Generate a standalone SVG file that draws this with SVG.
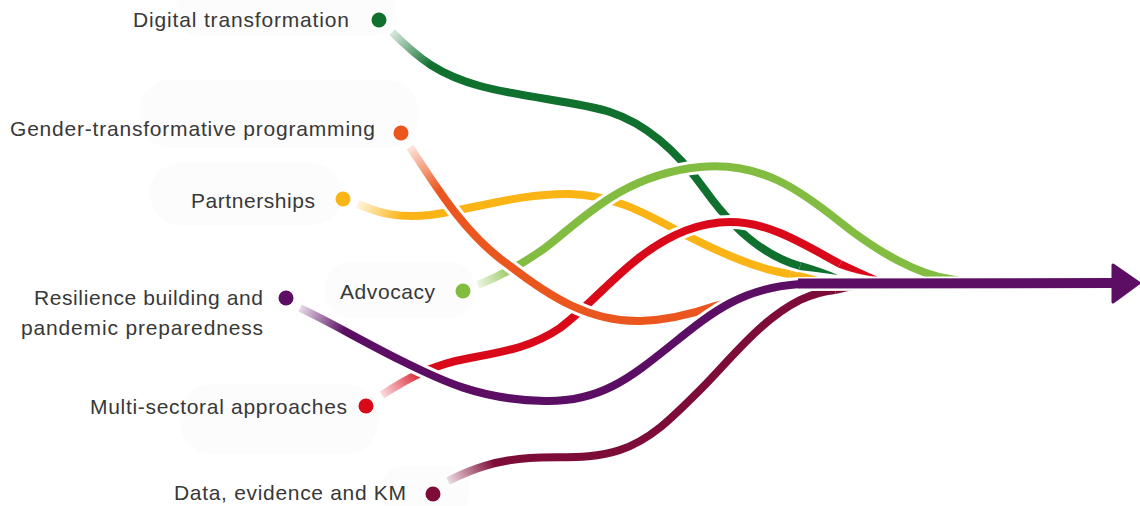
<svg xmlns="http://www.w3.org/2000/svg" width="1140" height="506" viewBox="0 0 1140 506">
  <style>
    .lbl { font-family: "Liberation Sans", Arial, sans-serif; font-size: 21px; fill: #383838; text-anchor: end; }
    .halo { fill: #fcfcfc; }
    .gap { fill: none; stroke: #ffffff; stroke-width: 14; stroke-linecap: butt; }
    .strand { fill: none; stroke-width: 8; stroke-linecap: butt; }
    .c-digital { fill: #10712f; }
    .c-gender { fill: #ea561e; }
    .c-partner { fill: #fbb415; }
    .c-advocacy { fill: #82bc41; }
    .c-resil { fill: #5b0e63; }
    .c-multi { fill: #d9091a; }
    .c-data { fill: #7e0c38; }
  </style>
  <defs>
    <!-- fade-in at the start of each strand -->
    <linearGradient id="g-digital" gradientUnits="userSpaceOnUse" x1="392" y1="32" x2="428" y2="68">
      <stop offset="0" stop-color="#10712f" stop-opacity="0.15"/>
      <stop offset="1" stop-color="#10712f"/>
    </linearGradient>
    <linearGradient id="g-gender" gradientUnits="userSpaceOnUse" x1="410" y1="147" x2="438" y2="191">
      <stop offset="0" stop-color="#ea561e" stop-opacity="0.15"/>
      <stop offset="1" stop-color="#ea561e"/>
    </linearGradient>
    <linearGradient id="g-partner" gradientUnits="userSpaceOnUse" x1="358" y1="204" x2="400" y2="222">
      <stop offset="0" stop-color="#fbb415" stop-opacity="0.15"/>
      <stop offset="1" stop-color="#fbb415"/>
    </linearGradient>
    <linearGradient id="g-advocacy" gradientUnits="userSpaceOnUse" x1="478" y1="285" x2="520" y2="268">
      <stop offset="0" stop-color="#82bc41" stop-opacity="0.15"/>
      <stop offset="1" stop-color="#82bc41"/>
    </linearGradient>
    <linearGradient id="g-resil" gradientUnits="userSpaceOnUse" x1="300" y1="308" x2="345" y2="329">
      <stop offset="0" stop-color="#5b0e63" stop-opacity="0.15"/>
      <stop offset="1" stop-color="#5b0e63"/>
    </linearGradient>
    <linearGradient id="g-multi" gradientUnits="userSpaceOnUse" x1="382" y1="395" x2="424" y2="368">
      <stop offset="0" stop-color="#d9091a" stop-opacity="0.15"/>
      <stop offset="1" stop-color="#d9091a"/>
    </linearGradient>
    <linearGradient id="g-data" gradientUnits="userSpaceOnUse" x1="448" y1="481" x2="492" y2="459">
      <stop offset="0" stop-color="#7e0c38" stop-opacity="0.15"/>
      <stop offset="1" stop-color="#7e0c38"/>
    </linearGradient>
  </defs>

  <rect width="1140" height="506" fill="#ffffff"/>

  <!-- soft label backdrops -->
  <g id="backdrops">
    <rect class="halo" x="175" y="-10" width="220" height="46" rx="22"/>
    <rect class="halo" x="140" y="80" width="278" height="68" rx="30"/>
    <rect class="halo" x="150" y="163" width="192" height="62" rx="30"/>
    <rect class="halo" x="325" y="262" width="150" height="56" rx="26"/>
    <rect class="halo" x="180" y="384" width="198" height="70" rx="32"/>
    <rect class="halo" x="380" y="466" width="90" height="50" rx="24"/>
  </g>

  <!-- strands, bottom to top -->
  <g id="connectors">
    <g id="edge-partnerships">
      <path class="gap" d="M358,204 C380,214 400,218 430,215 C470,210 520,193 570,194 C610,195 640,210 680,232 C720,253 760,270 790,274"/>
      <path class="strand" stroke="url(#g-partner)" d="M358,204 C380,214 400,218 430,215 C470,210 520,193 570,194 C610,195 640,210 680,232 C720,253 760,270 790,274"/>
      <path class="c-partner" d="M790.5,270 Q808,274 822,278 Q806,278 789.5,278 Z"/>
    </g>
    <g id="edge-digital">
      <path class="gap" d="M392,32 C420,60 440,75 480,86 C520,97 580,102 610,112 C650,125 680,155 705,190 C730,225 760,255 800,266"/>
      <path class="strand" stroke="url(#g-digital)" d="M392,32 C420,60 440,75 480,86 C520,97 580,102 610,112 C650,125 680,155 705,190 C730,225 760,255 800,266"/>
      <path class="c-digital" d="M801,262 Q822,268 838,275 Q818,272 799,270 Z"/>
    </g>
    <g id="edge-advocacy">
      <path class="gap" d="M478,285 C500,276 520,266 545,248 C580,222 620,175 700,167 C760,161 800,190 840,222 C880,254 920,275 950,279"/>
      <path class="strand" stroke="url(#g-advocacy)" d="M478,285 C500,276 520,266 545,248 C580,222 620,175 700,167 C760,161 800,190 840,222 C880,254 920,275 950,279"/>
      <path class="c-advocacy" d="M950.5,275 Q966,278 980,281 Q964,282 949.5,283 Z"/>
    </g>
    <g id="edge-multi">
      <path class="gap" d="M382,395 C405,380 430,365 470,358 C510,351 535,345 560,328 C590,305 610,280 640,257 C670,234 700,222 730,222 C770,222 805,245 840,264"/>
      <path class="strand" stroke="url(#g-multi)" d="M382,395 C405,380 430,365 470,358 C510,351 535,345 560,328 C590,305 610,280 640,257 C670,234 700,222 730,222 C770,222 805,245 840,264"/>
      <path class="c-multi" d="M842,260.5 Q862,270 878,277 Q858,275 838,267.5 Z"/>
    </g>
    <g id="edge-data">
      <path class="gap" d="M448,481 C470,470 495,460 530,458 C560,456 590,460 620,450 C650,440 670,420 700,390 C730,360 760,320 800,300 C815,293 825,291 835,290"/>
      <path class="strand" stroke="url(#g-data)" d="M448,481 C470,470 495,460 530,458 C560,456 590,460 620,450 C650,440 670,420 700,390 C730,360 760,320 800,300 C815,293 825,291 835,290"/>
      <path class="c-data" d="M834.5,286 Q850,287 862,288 Q848,291 835.5,294 Z"/>
    </g>
    <g id="edge-gender">
      <path class="gap" d="M410,147 C435,185 465,235 510,266 C550,297 590,322 640,321 C670,320 695,313 715,306"/>
      <path class="strand" stroke="url(#g-gender)" d="M410,147 C435,185 465,235 510,266 C550,297 590,322 640,321 C670,320 695,313 715,306"/>
      <path class="c-gender" d="M713.7,302.2 Q735,297 753,293 Q738,302 716.3,309.8 Z"/>
    </g>
    <g id="edge-resilience">
      <path class="gap" d="M300,308 C330,322 360,340 400,360 C440,380 480,400 545,401 C600,402 630,378 670,346 C710,314 740,288 800,284 L1112,283"/>
      <path class="strand" stroke="url(#g-resil)" d="M300,308 C330,322 360,340 400,360 C440,380 480,400 545,401 C600,402 630,378 670,346 C710,314 740,288 800,284"/>
      <path fill="none" stroke="#5b0e63" stroke-width="10" d="M798,283.5 L1114,283"/>
      <path class="c-resil" stroke="#5b0e63" stroke-width="3" stroke-linejoin="round" d="M1113,265 L1139,283 L1113,302 Z"/>
    </g>
  </g>

  <!-- labelled nodes -->
  <g id="node-digital">
    <circle class="c-digital" cx="379" cy="20" r="7.5"/>
    <text class="lbl" x="349" y="27" textLength="216" lengthAdjust="spacing">Digital transformation</text>
  </g>
  <g id="node-gender">
    <circle class="c-gender" cx="401" cy="133" r="7.5"/>
    <text class="lbl" x="375" y="136" textLength="365" lengthAdjust="spacing">Gender-transformative programming</text>
  </g>
  <g id="node-partnerships">
    <circle class="c-partner" cx="343" cy="199" r="7.5"/>
    <text class="lbl" x="315" y="208" textLength="124" lengthAdjust="spacing">Partnerships</text>
  </g>
  <g id="node-advocacy">
    <circle class="c-advocacy" cx="463" cy="291" r="7.5"/>
    <text class="lbl" x="435" y="299" textLength="95" lengthAdjust="spacing">Advocacy</text>
  </g>
  <g id="node-resilience">
    <circle class="c-resil" cx="286" cy="298" r="7.5"/>
    <text class="lbl" x="263" y="305" textLength="229" lengthAdjust="spacing">Resilience building and</text>
    <text class="lbl" x="263" y="335" textLength="242" lengthAdjust="spacing">pandemic preparedness</text>
  </g>
  <g id="node-multi">
    <circle class="c-multi" cx="366" cy="406" r="7.5"/>
    <text class="lbl" x="347" y="414" textLength="257" lengthAdjust="spacing">Multi-sectoral approaches</text>
  </g>
  <g id="node-data">
    <circle class="c-data" cx="433" cy="494" r="7.5"/>
    <text class="lbl" x="406" y="500" textLength="232" lengthAdjust="spacing">Data, evidence and KM</text>
  </g>
</svg>
